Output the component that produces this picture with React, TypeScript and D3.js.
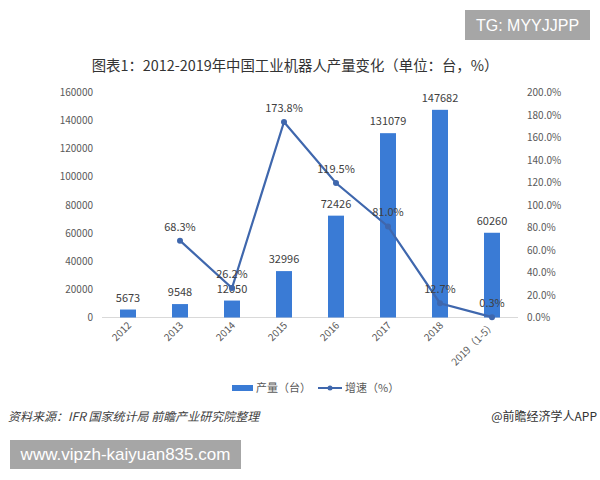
import React from "react";
import * as d3 from "d3";

const categories = ["2012", "2013", "2014", "2015", "2016", "2017", "2018", "2019（1-5）"];
const production = [5673, 9548, 12050, 32996, 72426, 131079, 147682, 60260];
const growth: (number | null)[] = [null, 68.3, 26.2, 173.8, 119.5, 81.0, 12.7, 0.3];
const leftTicks = [0, 20000, 40000, 60000, 80000, 100000, 120000, 140000, 160000];
const rightTicks = [0, 20, 40, 60, 80, 100, 120, 140, 160, 180, 200];

const W = 600;
const H = 480;
const FONT = "'Noto Sans CJK SC', 'Noto Sans', sans-serif";
const BAR = "#3a7bd5";
const LINE = "#3f67ad";

export default function App() {
  const x = d3.scaleBand<string>().domain(categories).range([102, 518]);
  const yL = d3.scaleLinear().domain([0, 160000]).range([317.5, 92.5]);
  const yR = d3.scaleLinear().domain([0, 200]).range([317.5, 92.5]);
  const cx = (c: string) => (x(c) as number) + x.bandwidth() / 2;
  const bw = 16;

  const pts = categories
    .map((c, i) => ({ c, v: growth[i] }))
    .filter((d) => d.v !== null) as { c: string; v: number }[];
  const line = d3
    .line<{ c: string; v: number }>()
    .x((d) => cx(d.c))
    .y((d) => yR(d.v));

  return (
    <svg
      width={W}
      height={H}
      style={{ position: "absolute", left: 0, top: 0, background: "#fff" }}
      fontFamily={FONT}
    >
      <rect x={0} y={0} width={W} height={H} fill="#fff" />
      {/* TG box */}
      <rect x={465} y={10} width={125} height={30} fill="#a6a6a6" />
      <text x={527.5} y={31} textAnchor="middle" fontSize={16} fill="#fff" fontFamily="'Liberation Sans', Arial, sans-serif">
        TG: MYYJJPP
      </text>

      {/* Title */}
      <text x={295} y={71} textAnchor="middle" fontSize={14.4} fill="#333">
        图表1：2012-2019年中国工业机器人产量变化（单位：台，%）
      </text>

      {/* Left axis labels */}
      {leftTicks.map((t) => (
        <text key={"l" + t} x={93} y={yL(t) + 3.5} textAnchor="end" fontSize={10} fill="#595959">
          {t}
        </text>
      ))}
      {/* Right axis labels */}
      {rightTicks.map((t) => (
        <text key={"r" + t} x={527} y={yR(t) + 3.5} textAnchor="start" fontSize={10} fill="#595959">
          {t.toFixed(1) + "%"}
        </text>
      ))}

      {/* axis line */}
      <line x1={102} x2={518} y1={317.5} y2={317.5} stroke="#d9d9d9" strokeWidth={1} />

      {/* Bars */}
      {categories.map((c, i) => (
        <g key={"b" + c}>
          <rect x={cx(c) - bw / 2} y={yL(production[i])} width={bw} height={317.5 - yL(production[i])} fill={BAR} />
          <text x={cx(c)} y={yL(production[i]) - 8} textAnchor="middle" fontSize={11} fill="#404040">
            {production[i]}
          </text>
        </g>
      ))}

      {/* Line */}
      <path d={line(pts) || ""} fill="none" stroke={LINE} strokeWidth={2.2} />
      {pts.map((d) => (
        <g key={"p" + d.c}>
          <circle cx={cx(d.c)} cy={yR(d.v)} r={3} fill={LINE} />
          <text x={cx(d.c)} y={yR(d.v) - 10} textAnchor="middle" fontSize={11} fill="#404040">
            {d.v.toFixed(1) + "%"}
          </text>
        </g>
      ))}

      {/* Category labels */}
      {categories.map((c) => (
        <text
          key={"c" + c}
          transform={`translate(${cx(c) + 4},${326}) rotate(-45)`}
          textAnchor="end"
          fontSize={10}
          fill="#595959"
        >
          {c}
        </text>
      ))}

      {/* Legend */}
      <rect x={232} y={385} width={21} height={6} fill={BAR} />
      <text x={256} y={392} fontSize={11} fill="#595959">产量（台）</text>
      <line x1={318} x2={342} y1={388} y2={388} stroke={LINE} strokeWidth={2} />
      <circle cx={330} cy={388} r={2.5} fill={LINE} />
      <text x={345} y={392} fontSize={11} fill="#595959">增速（%）</text>

      {/* Source */}
      <text x={8} y={421} fontSize={12} fill="#404040" fontStyle="italic">
        资料来源：IFR 国家统计局 前瞻产业研究院整理
      </text>
      <text x={597} y={421} textAnchor="end" fontSize={12} fill="#333">
        @前瞻经济学人APP
      </text>

      {/* URL box */}
      <rect x={10} y={440} width={231} height={29} fill="#a6a6a6" />
      <text x={125.5} y={460} textAnchor="middle" fontSize={17} fill="#fff" fontFamily="'Liberation Sans', Arial, sans-serif">
        www.vipzh-kaiyuan835.com
      </text>
    </svg>
  );
}
